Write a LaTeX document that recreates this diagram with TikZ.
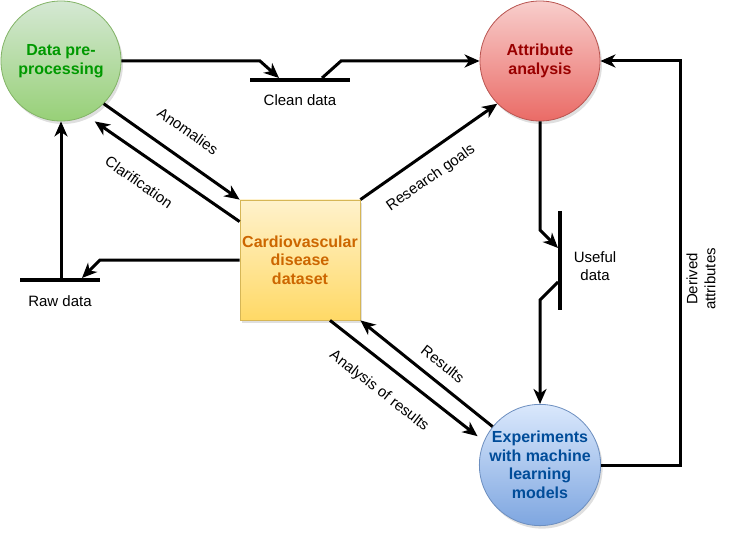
\documentclass[tikz,border=0pt]{standalone}
\usepackage{fontspec}
\setmainfont{Liberation Sans}
\usetikzlibrary{arrows.meta,calc,shadows}

\definecolor{greentop}{HTML}{D5E8D4}
\definecolor{greenbot}{HTML}{97D077}
\definecolor{greenline}{HTML}{82B366}
\definecolor{greentext}{HTML}{009900}
\definecolor{redtop}{HTML}{F8CECC}
\definecolor{redbot}{HTML}{EA6B66}
\definecolor{redline}{HTML}{B85450}
\definecolor{redtext}{HTML}{990000}
\definecolor{yellowtop}{HTML}{FFF2CC}
\definecolor{yellowbot}{HTML}{FFD966}
\definecolor{yellowline}{HTML}{D6B656}
\definecolor{orangetext}{HTML}{CC6600}
\definecolor{bluetop}{HTML}{DAE8FC}
\definecolor{bluebot}{HTML}{7EA6E0}
\definecolor{blueline}{HTML}{6C8EBF}
\definecolor{bluetext}{HTML}{004C99}

\tikzset{
  flow/.style={line width=3pt, -{Stealth[length=15pt,width=13pt,inset=4.5pt]}},
  storebar/.style={line width=4.2pt},
  softshadow/.style={drop shadow={shadow xshift=2pt,shadow yshift=-3pt,opacity=0.25}},
  process/.style={circle, minimum size=120pt, inner sep=0pt, draw, line width=0.8pt,
    align=center, font=\fontsize{16}{18.5}\selectfont\bfseries, softshadow},
  entity/.style={rectangle, minimum size=120pt, inner sep=0pt, draw, line width=0.8pt,
    align=center, font=\fontsize{16}{18.5}\selectfont\bfseries, softshadow},
  lbl/.style={font=\fontsize{15}{18}\selectfont, align=center},
}

\begin{document}
\begin{tikzpicture}[x=1pt,y=-1pt]
    \useasboundingbox (0,0) rectangle (730,537);
    % Processes and the dataset
    \node[process, draw=greenline, top color=greentop, bottom color=greenbot, text=greentext] (dp) at (61,61) {Data pre-\\processing};
    \node[process, draw=redline, top color=redtop, bottom color=redbot, text=redtext] (attr) at (540,61) {Attribute\\analysis};
    \node[process, draw=blueline, top color=bluetop, bottom color=bluebot, text=bluetext] (exp) at (540,465) {Experiments\\with machine\\learning\\models};
    \node[entity, draw=yellowline, top color=yellowtop, bottom color=yellowbot, text=orangetext] (box) at (300,260) {Cardiovascular\\disease\\dataset};

    % Data stores
    \coordinate (clean w) at (250,80);
    \coordinate (clean e) at (350,80);
    \coordinate (raw w) at (20,280);
    \coordinate (raw e) at (100,280);
    \coordinate (useful n) at (560,211);
    \coordinate (useful s) at (560,310);
    \draw[storebar] (clean w) -- (clean e);
    \draw[storebar] (raw w) -- (raw e);
    \draw[storebar] (useful n) -- (useful s);
    \node[lbl] (cleanlbl) at (300,100) {Clean data};
    \node[lbl] (rawlbl) at (60,301) {Raw data};
    \node[lbl] (usefullbl) at (595,266) {Useful\\data};

    % Clean data flow
    \draw[flow] (dp.east) -- (260,61) -- ($(clean w)+(29,-2)$);
    \draw[flow] ($(clean w)+(72,-2)$) -- (341,61) -- (attr.west);

    % Raw data flow
    \draw[flow] (box.west) -- (100,260) -- ($(raw e)+(-18,-2)$);
    \draw[flow] ($(raw w)+(41,-2)$) -- (dp.south);

    % Useful data flow
    \draw[flow] (attr.south) -- (540,230) -- ($(useful n)+(-2,37)$);
    \draw[flow] ($(useful n)+(-2,71)$) -- (540,300) -- (exp.north);

    % Derived attributes
    \draw[flow] (exp.east) -- (680,465) -- (680,61) -- (attr.east);
    \node[lbl, rotate=90] (derived) at (701,279) {Derived\\attributes};

    % Flows around the dataset
    \draw[flow] (dp.-45) -- (box.north west);
    \draw[flow, shorten >=10pt] ($(box.north west)+(0,22)$) -- (dp.-65);
    \draw[flow] (box.north east) -- (attr.-135);
    \draw[flow, shorten >=8pt] ($(box.south)+(30,0)$) -- (exp.157);
    \draw[flow] (exp.141) -- (box.south east);
    \node[lbl, rotate=-35] (anom) at (188,131) {Anomalies};
    \node[lbl, rotate=-35] (clar) at (139,182) {Clarification};
    \node[lbl, rotate=35] (goals) at (431,178) {Research goals};
    \node[lbl, rotate=-38] (res) at (443,364) {Results};
    \node[lbl, rotate=-38] (anres) at (379,391) {Analysis of results};
\end{tikzpicture}
\end{document}
